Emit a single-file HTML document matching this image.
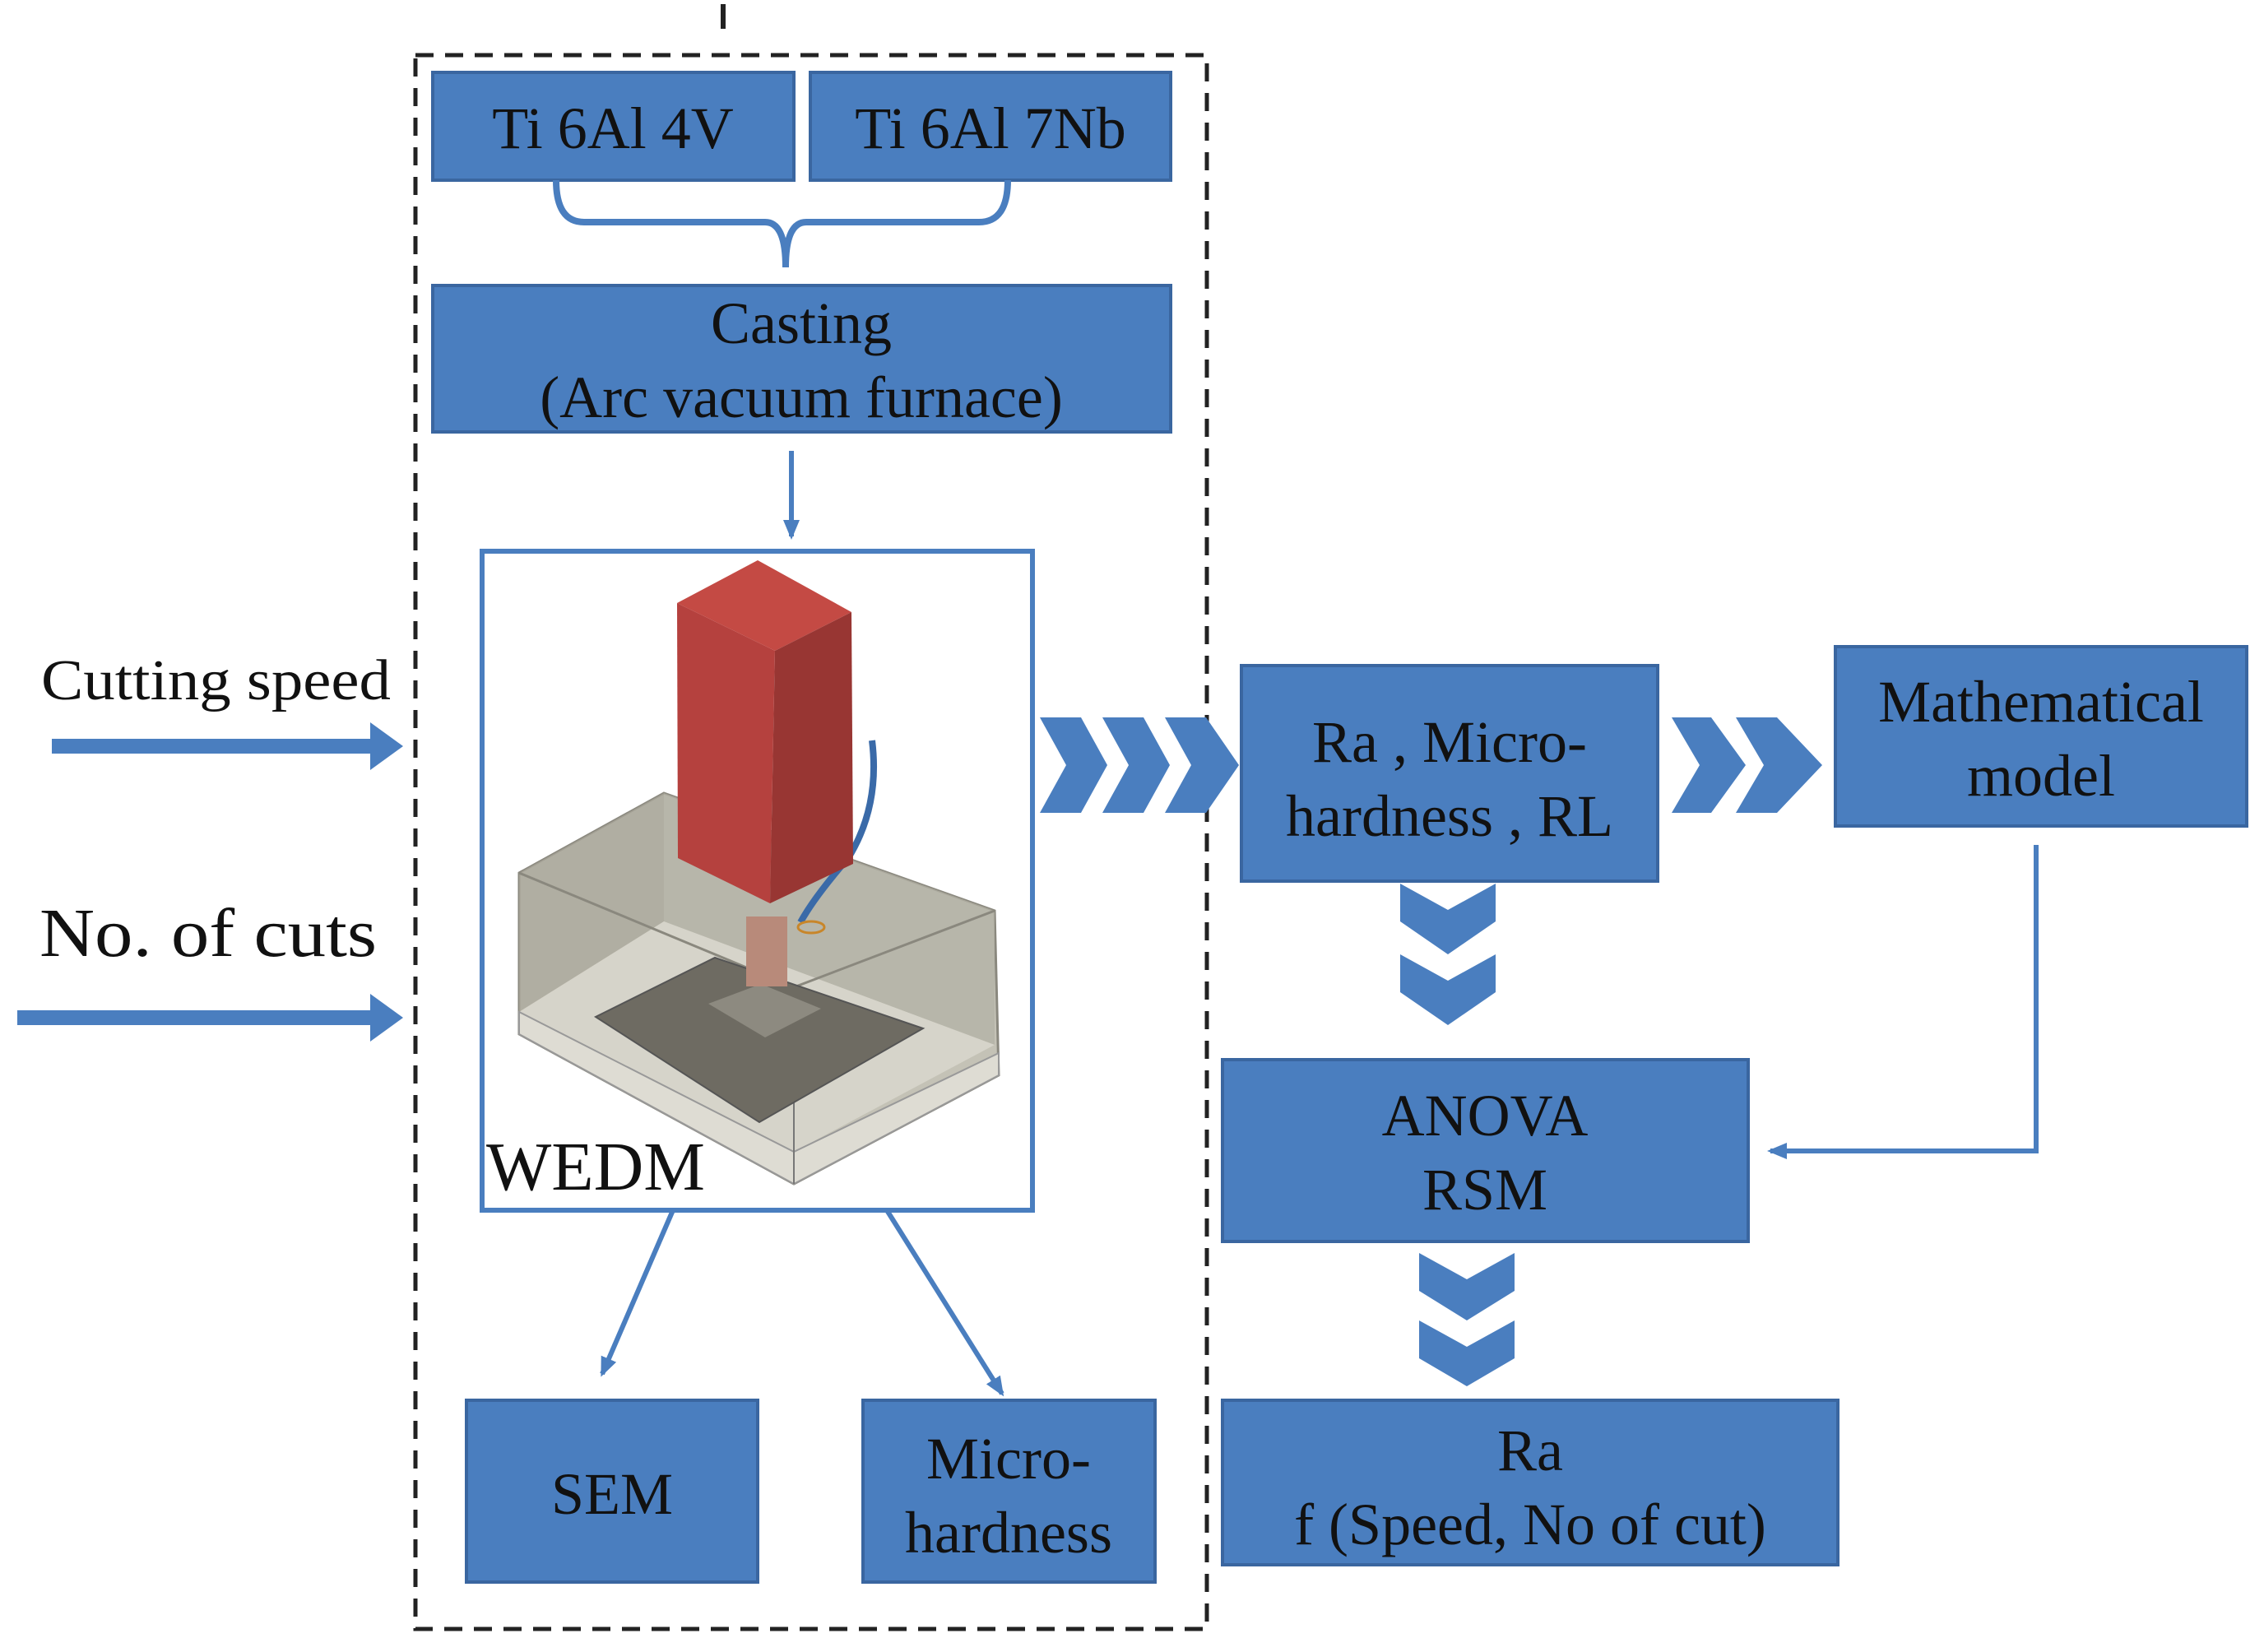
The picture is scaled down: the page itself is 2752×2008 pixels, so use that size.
<!DOCTYPE html>
<html><head><meta charset="utf-8"><style>
html,body{margin:0;padding:0;background:#fff}
svg{display:block}
text{font-family:"Liberation Serif",serif;fill:#111}
</style></head><body>
<svg width="2752" height="2008" viewBox="0 0 2752 2008" xmlns="http://www.w3.org/2000/svg">
<defs>
<marker id="ah" markerWidth="24" markerHeight="24" refX="20" refY="12" orient="auto" markerUnits="userSpaceOnUse" viewBox="0 0 24 24"><path d="M0,2 L24,12 L0,22 z" fill="#4a7ebf"/></marker>
</defs>
<rect x="505" y="67" width="962" height="1913" fill="none" stroke="#222" stroke-width="5" stroke-dasharray="22,14"/>
<rect x="876" y="5" width="6" height="30" fill="#222"/>

<g fill="#4a7ebf" stroke="#3a66a0" stroke-width="4">
<rect x="526" y="88" width="439" height="131"/>
<rect x="985" y="88" width="438" height="131"/>
<rect x="526" y="347" width="897" height="178"/>
<rect x="1509" y="809" width="506" height="262"/>
<rect x="2231" y="786" width="500" height="218"/>
<rect x="1486" y="1288" width="639" height="221"/>
<rect x="1486" y="1702" width="748" height="200"/>
<rect x="567" y="1702" width="354" height="221"/>
<rect x="1049" y="1702" width="355" height="221"/>
</g>
<path d="M676,219 Q676,270 710,270 L930,270 Q955,270 955,325 Q955,270 980,270 L1190,270 Q1225,270 1225,219" fill="none" stroke="#4a7ebf" stroke-width="8"/>
<line x1="962" y1="548" x2="962" y2="652" stroke="#4a7ebf" stroke-width="6" marker-end="url(#ah)"/>

<rect x="63" y="898" width="390" height="18" fill="#4a7ebf"/>
<path d="M450,878 L490,907 L450,936 z" fill="#4a7ebf"/>
<rect x="21" y="1228" width="432" height="18" fill="#4a7ebf"/>
<path d="M450,1208 L490,1237 L450,1266 z" fill="#4a7ebf"/>
<text x="50" y="850" font-size="70" textLength="425" lengthAdjust="spacingAndGlyphs">Cutting speed</text>
<text x="48" y="1162" font-size="84" textLength="410" lengthAdjust="spacingAndGlyphs">No. of cuts</text>

<g fill="#4a7ebf">
<path d="M1264,872 L1314,872 L1346,930 L1314,988 L1264,988 L1296,930 z"/>
<path d="M1340,872 L1390,872 L1422,930 L1390,988 L1340,988 L1372,930 z"/>
<path d="M1416,872 L1466,872 L1506,930 L1466,988 L1416,988 L1448,930 z"/>
<path d="M2032,872 L2080,872 L2122,930 L2080,988 L2032,988 L2066,930 z"/>
<path d="M2110,872 L2160,872 L2215,930 L2160,988 L2110,988 L2144,930 z"/>
<path d="M1702,1074 L1760,1106 L1818,1074 L1818,1120 L1760,1160 L1702,1120 z"/>
<path d="M1702,1160 L1760,1192 L1818,1160 L1818,1206 L1760,1246 L1702,1206 z"/>
<path d="M1725,1523 L1783,1555 L1841,1523 L1841,1569 L1783,1605 L1725,1569 z"/>
<path d="M1725,1605 L1783,1637 L1841,1605 L1841,1651 L1783,1685 L1725,1651 z"/>
</g>
<polyline points="2475,1027 2475,1399 2152,1399" fill="none" stroke="#4a7ebf" stroke-width="6" marker-end="url(#ah)"/>

<rect x="586" y="670" width="669" height="801" fill="#fff" stroke="#4a7ebf" stroke-width="6"/>
<!-- tank -->
<polygon points="631,1061 807,964 1209,1107 1214,1307 965,1439 631,1257" fill="#c4c2b6" stroke="#8a887e" stroke-width="3"/>
<polygon points="631,1061 807,964 807,1120 631,1230" fill="#a9a79b" opacity="0.75"/>
<polygon points="807,964 1209,1107 1209,1270 807,1120" fill="#b3b1a5" opacity="0.75"/>
<polygon points="631,1230 807,1120 1209,1270 965,1400" fill="#d6d4ca"/>
<polygon points="631,1230 965,1400 1214,1280 1214,1307 965,1439 631,1257" fill="#dedcd3" stroke="#999" stroke-width="2"/>
<polyline points="631,1061 965,1200 1209,1107" fill="none" stroke="#8a887e" stroke-width="3"/>
<line x1="965" y1="1200" x2="965" y2="1439" stroke="#777" stroke-width="2"/>
<polygon points="724,1236 869,1164 1122,1250 923,1364" fill="#6e6b62" stroke="#555" stroke-width="2"/>
<polygon points="861,1220 925,1196 998,1226 930,1261" fill="#8d8a80"/>
<rect x="907" y="1114" width="50" height="85" fill="#b88a7a"/>
<path d="M1060,900 Q1070,980 1031,1043 Q990,1090 973,1121" fill="none" stroke="#3a6aa8" stroke-width="8"/>
<ellipse cx="986" cy="1127" rx="16" ry="7" fill="none" stroke="#c8862a" stroke-width="3"/>
<!-- red head -->
<polygon points="823,733 921,681 1035,744 942,791" fill="#c44a44"/>
<polygon points="823,733 942,791 936,1098 824,1043" fill="#b5413e"/>
<polygon points="942,791 1035,744 1037,1050 936,1098" fill="#983633"/>
<text x="591" y="1446" font-size="84">WEDM</text>

<line x1="818" y1="1471" x2="732" y2="1670" stroke="#4a7ebf" stroke-width="6" marker-end="url(#ah)"/>
<line x1="1078" y1="1471" x2="1218" y2="1694" stroke="#4a7ebf" stroke-width="6" marker-end="url(#ah)"/>

<g font-size="72" text-anchor="middle">
<text x="745" y="180">Ti 6Al 4V</text>
<text x="1204" y="180">Ti 6Al 7Nb</text>
<text x="974" y="417">Casting</text>
<text x="974" y="507">(Arc vacuum furnace)</text>
<text x="1762" y="926">Ra , Micro-</text>
<text x="1762" y="1016">hardness , RL</text>
<text x="2481" y="877">Mathematical</text>
<text x="2481" y="967">model</text>
<text x="1805" y="1380">ANOVA</text>
<text x="1805" y="1470">RSM</text>
<text x="1860" y="1787">Ra</text>
<text x="1860" y="1877">f (Speed, No of cut)</text>
<text x="744" y="1840">SEM</text>
<text x="1226" y="1797">Micro-</text>
<text x="1226" y="1887">hardness</text>
</g>
</svg>
</body></html>
